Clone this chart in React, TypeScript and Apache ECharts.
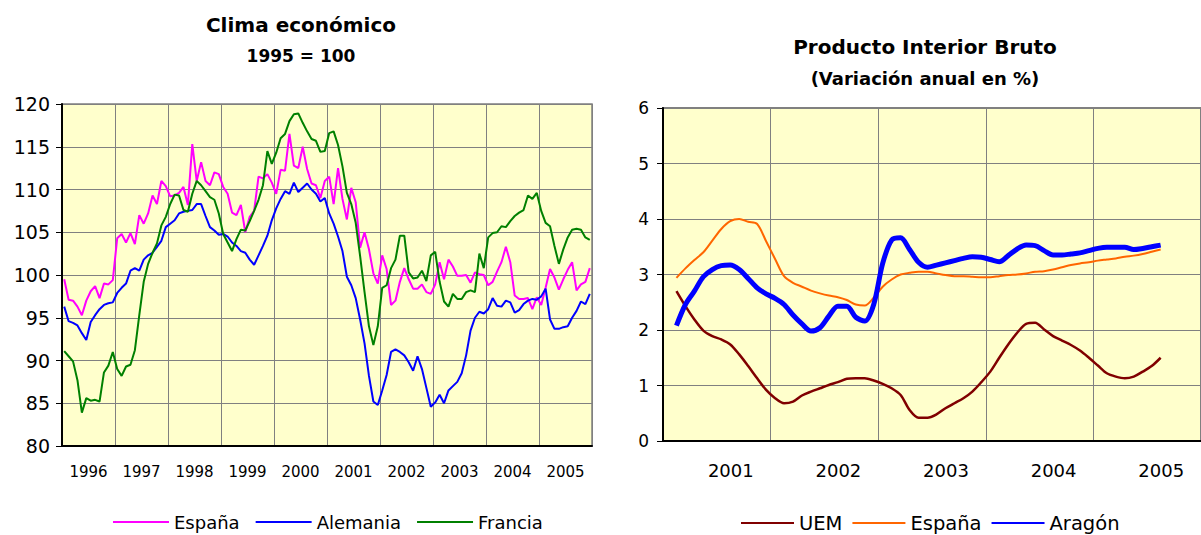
import React, { useEffect, useRef } from "react";
import * as echarts from "echarts";

// ---------- Left chart: Clima económico (monthly, 1996-2005) ----------
const climaYears = ["1996", "1997", "1998", "1999", "2000", "2001", "2002", "2003", "2004", "2005"];
const monthNums = ["01", "02", "03", "04", "05", "06", "07", "08", "09", "10", "11", "12"];
const climaMonths = climaYears.flatMap((y) => monthNums.map((m) => `${y}-${m}`));

const espanaClima = [
  99.5, 97.1, 97.0, 96.3, 95.3, 97.0, 98.1, 98.7, 97.3, 99.0, 98.9, 99.4,
  104.3, 104.8, 103.8, 104.9, 103.6, 107.0, 106.0, 107.2, 109.3, 108.3, 111.0, 110.4,
  109.2, 109.3, 109.6, 110.3, 108.2, 115.3, 111.0, 113.2, 111.0, 110.5, 112.0, 111.8,
  110.3, 109.5, 107.3, 107.0, 108.2, 105.0, 106.8, 107.5, 111.5, 111.3, 111.8, 110.8,
  109.5, 112.3, 112.2, 116.5, 112.8, 112.5, 115.0, 112.4, 110.7, 110.5, 109.0, 111.0,
  111.5, 108.3, 112.5, 108.9, 106.5, 110.2, 108.5, 103.2, 105.0, 103.0, 100.2, 99.0,
  102.3, 100.7, 96.5, 97.0, 99.2, 100.8, 99.5, 98.4, 98.4, 98.9, 98.0, 97.8,
  98.9, 101.5, 99.5, 101.8, 101.0, 99.9, 99.9, 100.0, 99.1, 100.3, 100.1, 100.0,
  98.8, 99.2, 100.4, 101.5, 103.3, 101.5, 97.6, 97.2, 97.2, 97.3, 96.0, 97.4,
  96.5, 98.5, 100.7, 99.7, 98.3, 99.5, 100.6, 101.5, 98.2, 98.9, 99.2, 100.8,
];

const alemaniaClima = [
  96.3, 94.6, 94.4, 94.1, 93.2, 92.4, 94.5, 95.3, 96.0, 96.5, 96.7, 96.8,
  97.9, 98.5, 99.0, 100.5, 100.8, 100.5, 101.8, 102.3, 102.6, 103.3, 104.0, 105.6,
  106.0, 106.4, 107.2, 107.4, 107.5, 107.6, 108.3, 108.3, 106.9, 105.6, 105.2, 104.7,
  104.8, 104.5, 103.8, 103.4, 102.8, 102.6, 101.8, 101.2, 102.3, 103.4, 104.6, 106.4,
  107.8, 108.9, 109.8, 109.5, 110.8, 109.7, 110.2, 110.7, 110.0, 109.5, 108.6, 109.0,
  107.2, 106.0, 104.5, 102.8, 99.8, 98.8, 97.3, 94.8, 92.0, 88.2, 85.2, 84.8,
  86.5, 88.3, 91.0, 91.3, 91.0, 90.6, 89.8, 88.8, 90.5, 89.0, 86.8, 84.6,
  85.1, 86.0, 85.0, 86.5, 87.0, 87.5, 88.5, 90.6, 93.5, 95.0, 95.7, 95.5,
  96.0, 97.3, 96.4, 96.3, 97.0, 96.8, 95.6, 95.9, 96.6, 97.0, 97.2, 97.1,
  97.5, 98.4, 94.8, 93.7, 93.7, 93.9, 94.0, 95.0, 95.8, 96.9, 96.6, 97.8,
];

const franciaClima = [
  91.1, 90.5, 89.9, 87.7, 83.9, 85.6, 85.3, 85.4, 85.2, 88.6, 89.4, 91.0,
  89.0, 88.2, 89.3, 89.5, 91.2, 95.3, 99.2, 101.3, 102.6, 103.7, 105.8, 106.8,
  108.3, 109.4, 109.3, 107.6, 107.4, 109.5, 111.0, 110.5, 109.8, 109.1, 108.8, 107.2,
  104.8, 103.8, 102.8, 104.2, 105.3, 105.2, 106.3, 107.5, 108.8, 110.5, 114.5, 113.0,
  114.3, 116.0, 116.5, 118.0, 118.8, 118.9, 117.8, 116.8, 115.9, 115.7, 114.4, 114.5,
  116.6, 116.8, 115.2, 112.7, 109.6, 108.3, 106.1, 102.2, 98.0, 94.0, 91.8, 94.0,
  98.5, 98.8, 100.8, 101.8, 104.6, 104.6, 100.3, 99.6, 99.7, 100.5, 99.3, 102.3,
  102.7, 99.2, 96.9, 96.3, 97.8, 97.2, 97.2, 98.0, 98.2, 98.0, 102.5, 100.8,
  104.4, 104.9, 105.0, 105.7, 105.6, 106.3, 106.9, 107.3, 107.6, 109.3, 108.9, 109.6,
  107.5, 106.1, 105.7, 103.4, 101.3, 103.0, 104.4, 105.3, 105.4, 105.3, 104.4, 104.1,
];

// ---------- Right chart: PIB (monthly, Feb 2001 - Aug 2005) ----------
const pibYears = ["2001", "2002", "2003", "2004", "2005"];
const pibMonths = pibYears.flatMap((y) => monthNums.map((m) => `${y}-${m}`));
const pibStartIndex = 1; // first value is Feb 2001

const uemPib = [
  2.70, 2.43, 2.19, 1.99, 1.89, 1.83, 1.74, 1.56, 1.35, 1.13,
  0.92, 0.77, 0.68, 0.71, 0.82, 0.89, 0.95, 1.01, 1.06, 1.12,
  1.13, 1.13, 1.09, 1.03, 0.95, 0.83, 0.56, 0.42, 0.42, 0.48,
  0.59, 0.68, 0.77, 0.89, 1.06, 1.25, 1.50, 1.74, 1.95, 2.11,
  2.13, 2.01, 1.89, 1.81, 1.73, 1.63, 1.50, 1.36, 1.22, 1.16,
  1.13, 1.16, 1.25, 1.35, 1.50,
];

const espanaPib = [
  2.94, 3.11, 3.26, 3.40, 3.61, 3.82, 3.96, 4.00, 3.95, 3.91,
  3.60, 3.28, 2.97, 2.85, 2.78, 2.71, 2.66, 2.62, 2.59, 2.54,
  2.46, 2.44, 2.58, 2.78, 2.91, 3.00, 3.03, 3.05, 3.05, 3.02,
  2.99, 2.97, 2.97, 2.96, 2.95, 2.95, 2.97, 2.99, 3.00, 3.02,
  3.05, 3.06, 3.09, 3.13, 3.17, 3.20, 3.22, 3.25, 3.27, 3.29,
  3.32, 3.34, 3.37, 3.41, 3.45,
];

const aragonPib = [
  2.08, 2.46, 2.70, 2.96, 3.09, 3.16, 3.17, 3.09, 2.93, 2.76,
  2.65, 2.57, 2.46, 2.27, 2.11, 1.98, 2.04, 2.25, 2.43, 2.43,
  2.23, 2.16, 2.46, 3.20, 3.62, 3.66, 3.45, 3.22, 3.13, 3.17,
  3.21, 3.25, 3.29, 3.32, 3.31, 3.27, 3.23, 3.34, 3.46, 3.53,
  3.52, 3.43, 3.35, 3.35, 3.37, 3.39, 3.43, 3.47, 3.49, 3.49,
  3.49, 3.45, 3.47, 3.50, 3.53,
];

const FONT = "DejaVu Sans";
const BG = "#FFFFCC";
const GRID = "#808080";

function pad(values: number[]): (number | null)[] {
  const out: (number | null)[] = [];
  for (let i = 0; i < pibStartIndex; i++) out.push(null);
  return out.concat(values);
}

function leftOption(): any {
  const line = (name: string, data: number[], color: string) => ({
    name,
    type: "line",
    xAxisIndex: 0,
    data,
    symbol: "none",
    showSymbol: false,
    lineStyle: { color, width: 2 },
    itemStyle: { color },
  });
  return {
    animation: false,
    graphic: [
      { type: "text", x: 301, y: 25, style: { text: "Clima económico", fill: "#000", font: `bold 20px "${FONT}"`, align: "center", verticalAlign: "middle" } },
      { type: "text", x: 301, y: 56, style: { text: "1995 = 100", fill: "#000", font: `bold 17px "${FONT}"`, align: "center", verticalAlign: "middle" } },
    ],
    grid: { left: 62, top: 104, width: 530, height: 342, show: true, backgroundColor: BG, borderColor: GRID, borderWidth: 1.5 },
    legend: {
      left: 107, top: 508, itemWidth: 56, itemHeight: 4, itemGap: 15,
      itemStyle: { opacity: 0 },
      textStyle: { fontFamily: FONT, fontSize: 18, color: "#000" },
      data: ["España", "Alemania", "Francia"],
    },
    xAxis: [
      { type: "category", data: climaMonths, show: false, boundaryGap: true, position: "top" },
      {
        type: "category", data: climaYears, boundaryGap: true, position: "bottom",
        axisLine: { lineStyle: { color: "#000", width: 2 } },
        axisTick: { show: false },
        splitLine: { show: true, interval: 0, lineStyle: { color: GRID, width: 1 } },
        axisLabel: { interval: 0, margin: 18, fontFamily: FONT, fontSize: 15, color: "#000" },
      },
    ],
    yAxis: {
      type: "value", min: 80, max: 120, interval: 5,
      axisLine: { show: true, lineStyle: { color: "#000", width: 2 } },
      axisTick: { show: true, length: 6, lineStyle: { color: "#000" } },
      splitLine: { show: true, lineStyle: { color: GRID, width: 1 } },
      axisLabel: { fontFamily: FONT, fontSize: 19, color: "#000", margin: 12 },
    },
    series: [
      line("España", espanaClima, "#FF00FF"),
      line("Alemania", alemaniaClima, "#0000FF"),
      line("Francia", franciaClima, "#008000"),
    ],
  };
}

function rightOption(): any {
  const line = (name: string, data: number[], color: string, width: number) => ({
    name,
    type: "line",
    xAxisIndex: 0,
    data: pad(data),
    symbol: "none",
    showSymbol: false,
    smooth: 0.3,
    lineStyle: { color, width },
    itemStyle: { color },
  });
  return {
    animation: false,
    graphic: [
      { type: "text", x: 325, y: 47, style: { text: "Producto Interior Bruto", fill: "#000", font: `bold 20px "${FONT}"`, align: "center", verticalAlign: "middle" } },
      { type: "text", x: 325, y: 78, style: { text: "(Variación anual en %)", fill: "#000", font: `bold 18px "${FONT}"`, align: "center", verticalAlign: "middle" } },
    ],
    grid: { left: 63, top: 108, width: 545, height: 333, show: true, backgroundColor: BG, borderColor: GRID, borderWidth: 2 },
    legend: {
      left: 135, top: 508, itemWidth: 53, itemHeight: 4, itemGap: 9,
      itemStyle: { opacity: 0 },
      textStyle: { fontFamily: FONT, fontSize: 19.5, color: "#000" },
      data: ["UEM", "España", "Aragón"],
    },
    xAxis: [
      { type: "category", data: pibMonths, show: false, boundaryGap: true, position: "top" },
      {
        type: "category", data: pibYears, boundaryGap: true, position: "bottom",
        axisLine: { lineStyle: { color: "#000", width: 2 } },
        axisTick: { show: false },
        splitLine: { show: true, interval: 0, lineStyle: { color: GRID, width: 1 } },
        axisLabel: {
          interval: 0, margin: 20,
          formatter: (v: string) => `{a|${v}}`,
          rich: { a: { fontFamily: FONT, fontSize: 18, color: "#000", padding: [0, 0, 0, 28] } },
        },
      },
    ],
    yAxis: {
      type: "value", min: 0, max: 6, interval: 1,
      axisLine: { show: true, lineStyle: { color: "#000", width: 2 } },
      axisTick: { show: true, length: 6, lineStyle: { color: "#000" } },
      splitLine: { show: true, lineStyle: { color: GRID, width: 1 } },
      axisLabel: { fontFamily: FONT, fontSize: 17, color: "#000", margin: 14 },
    },
    series: [
      line("UEM", uemPib, "#800000", 2.5),
      line("España", espanaPib, "#FF6600", 2),
      line("Aragón", aragonPib, "#0000FF", 5),
    ],
  };
}

export default function App() {
  const leftRef = useRef<HTMLDivElement>(null);
  const rightRef = useRef<HTMLDivElement>(null);

  useEffect(() => {
    const l = echarts.init(leftRef.current!, undefined, { renderer: "svg" });
    const r = echarts.init(rightRef.current!, undefined, { renderer: "svg" });
    l.setOption(leftOption());
    r.setOption(rightOption());
    return () => {
      l.dispose();
      r.dispose();
    };
  }, []);

  return (
    <div style={{ position: "absolute", left: 0, top: 0, width: 1201, height: 535, background: "#fff", overflow: "hidden" }}>
      <div ref={leftRef} style={{ position: "absolute", left: 0, top: 0, width: 600, height: 535 }} />
      <div ref={rightRef} style={{ position: "absolute", left: 600, top: 0, width: 601, height: 535 }} />
    </div>
  );
}
